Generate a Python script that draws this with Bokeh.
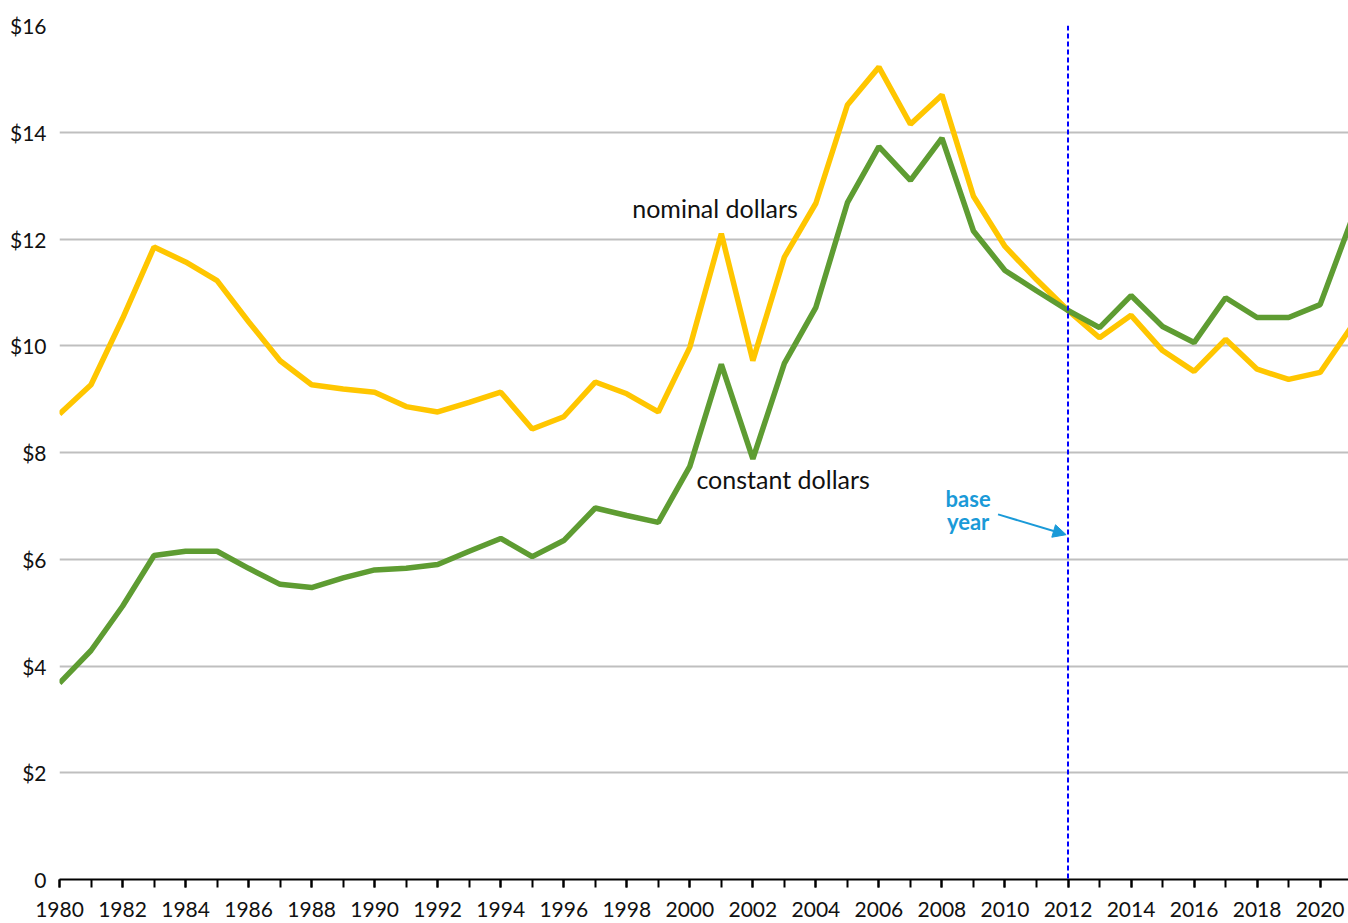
from bokeh.plotting import figure
from bokeh.models import (ColumnDataSource, FixedTicker, Span, Label, Arrow,
                          NormalHead, Range1d)
from bokeh.embed import file_html
from bokeh.resources import INLINE

years = list(range(1980, 2022))
nominal = [8.72, 9.27, 10.51, 11.85, 11.57, 11.22, 10.45, 9.72, 9.27, 9.19,
           9.13, 8.86, 8.76, 8.94, 9.13, 8.44, 8.67, 9.32, 9.10, 8.76,
           9.97, 12.10, 9.72, 11.66, 12.67, 14.51, 15.22, 14.15, 14.70, 12.80,
           11.86, 11.24, 10.66, 10.15, 10.57, 9.91, 9.52, 10.12, 9.56, 9.37,
           9.50, 10.36]
constant = [3.68, 4.29, 5.12, 6.07, 6.15, 6.15, 5.83, 5.53, 5.47, 5.65,
            5.80, 5.83, 5.90, 6.15, 6.39, 6.05, 6.35, 6.96, 6.82, 6.69,
            7.74, 9.65, 7.88, 9.67, 10.72, 12.68, 13.73, 13.10, 13.89, 12.15,
            11.41, 11.03, 10.66, 10.34, 10.94, 10.36, 10.06, 10.90, 10.53, 10.53,
            10.77, 12.36]
y_ticks = [0, 2, 4, 6, 8, 10, 12, 14, 16]
y_tick_labels = ["0", "$2", "$4", "$6", "$8", "$10", "$12", "$14", "$16"]
x_label_years = list(range(1980, 2021, 2))
base_year = 2012

FONT = "Lato"

src = ColumnDataSource(dict(year=years, nominal=nominal, constant=constant))

p = figure(width=1348, height=923, output_backend="svg", toolbar_location=None,
           x_range=Range1d(1980, 2020.9), y_range=Range1d(0, 16),
           min_border_left=59, min_border_right=0, min_border_top=25,
           min_border_bottom=44)
p.outline_line_color = None
p.background_fill_color = "white"
p.border_fill_color = "white"

# grid
p.xgrid.grid_line_color = None
p.ygrid.grid_line_color = "#BFBFBF"
p.ygrid.grid_line_width = 2
p.ygrid.ticker = FixedTicker(ticks=y_ticks)

# y axis
p.yaxis.ticker = FixedTicker(ticks=y_ticks)
p.yaxis.major_label_overrides = {t: l for t, l in zip(y_ticks, y_tick_labels)}
p.yaxis.axis_line_color = None
p.yaxis.major_tick_line_color = None
p.yaxis.minor_tick_line_color = None
p.yaxis.major_label_standoff = 7
p.yaxis.major_label_text_font = FONT
p.yaxis.major_label_text_font_size = "21px"
p.yaxis.major_label_text_color = "#111111"

# x axis
p.xaxis.ticker = FixedTicker(ticks=x_label_years, minor_ticks=years)
p.xaxis.axis_line_color = "black"
p.xaxis.axis_line_width = 2
p.xaxis.major_tick_line_color = "black"
p.xaxis.major_tick_line_width = 2
p.xaxis.major_tick_in = 0
p.xaxis.major_tick_out = 8
p.xaxis.minor_tick_line_color = "black"
p.xaxis.minor_tick_line_width = 2
p.xaxis.minor_tick_in = 0
p.xaxis.minor_tick_out = 8
p.xaxis.major_label_standoff = 14
p.xaxis.major_label_text_font = FONT
p.xaxis.major_label_text_font_size = "21px"
p.xaxis.major_label_text_color = "#111111"

# base year line
p.add_layout(Span(location=base_year, dimension="height", line_color="#0000FF",
                  line_width=2, line_dash="5 3"))

# series
p.line("year", "nominal", source=src, line_color="#FFC600", line_width=5.5)
p.line("year", "constant", source=src, line_color="#5E9C32", line_width=5.5)

# labels
p.add_layout(Label(x=2000.8, y=12.59, text="nominal dollars", text_align="center",
                   text_baseline="middle", text_font=FONT, text_font_size="25px",
                   text_color="#111111"))
p.add_layout(Label(x=2002.96, y=7.51, text="constant dollars", text_align="center",
                   text_baseline="middle", text_font=FONT, text_font_size="25px",
                   text_color="#111111"))
blue = "#1A9AD8"
p.add_layout(Label(x=2008.83, y=7.14, text="base", text_align="center",
                   text_baseline="middle", text_font=FONT, text_font_size="22px",
                   text_font_style="bold", text_color=blue))
p.add_layout(Label(x=2008.83, y=6.71, text="year", text_align="center",
                   text_baseline="middle", text_font=FONT, text_font_size="22px",
                   text_font_style="bold", text_color=blue))
p.add_layout(Arrow(x_start=2009.78, y_start=6.84, x_end=2011.94, y_end=6.46,
                   line_color=blue, line_width=2,
                   end=NormalHead(size=13, fill_color=blue, line_color=blue)))

open("out.html", "w").write(file_html(p, INLINE))
